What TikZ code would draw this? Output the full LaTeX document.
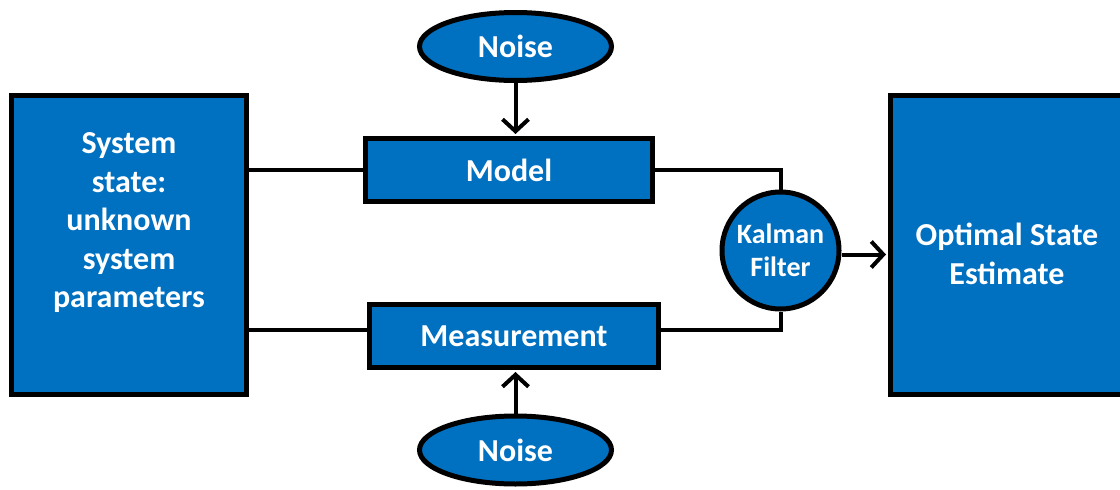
\documentclass[tikz,border=0pt]{standalone}
\usepackage{fontspec}
\setmainfont{Carlito}
\usetikzlibrary{arrows.meta,shapes.geometric}
\definecolor{kblue}{RGB}{0,112,192}
\begin{document}
\begin{tikzpicture}[x=1pt,y=-1pt,
  boxtxt/.style={text=white,font=\bfseries\fontsize{32}{38.5}\selectfont,align=center},
  blk/.style={draw=black,line width=5pt,fill=kblue,inner sep=0pt,boxtxt},
  oval/.style={blk,ellipse,minimum width=192pt,minimum height=68pt},
  conn/.style={line width=4pt},
  arr/.style={conn,-{Straight Barb[length=12pt,width=26pt,line width=4pt]},shorten >=2pt}
]
\useasboundingbox (0,0) rectangle (1120,490);
\node[blk,minimum width=235pt,minimum height=299pt,
  label={[boxtxt,yshift=22pt]center:System\\state:\\unknown\\system\\parameters}] (sys) at (129,245) {};
\node[blk,minimum width=287pt,minimum height=63pt] (model) at (509,170) {Model};
\node[blk,minimum width=289pt,minimum height=63pt] (meas) at (514,336) {Measurement};
\node[oval] (n1) at (515.5,46.5) {Noise};
\node[oval] (n2) at (515.5,450) {Noise};
\node[blk,circle,minimum size=117pt,font=\bfseries\fontsize{28}{33}\selectfont] (kf) at (780.5,250.5) {Kalman\\Filter};
\node[blk,minimum width=233pt,minimum height=299pt,
  label={[boxtxt,yshift=-9pt]center:Optimal State\\Estimate}] (out) at (1007,245) {};
\draw[conn] (model.west) -- (model.west -| sys.east);
\draw[conn] ([yshift=6pt]meas.west) -- ([yshift=6pt]meas.west -| sys.east);
\draw[conn] (model.east) -| (kf.north);
\draw[conn] ([yshift=6pt]meas.east) -| (kf.south);
\draw[arr] ([yshift=-4pt]kf.east) -- ([yshift=-4pt]kf.east -| out.west);
\draw[arr] (n1.south) -- (n1.south |- model.north);
\draw[arr] (n2.north) -- (n2.north |- meas.south);
\end{tikzpicture}
\end{document}
